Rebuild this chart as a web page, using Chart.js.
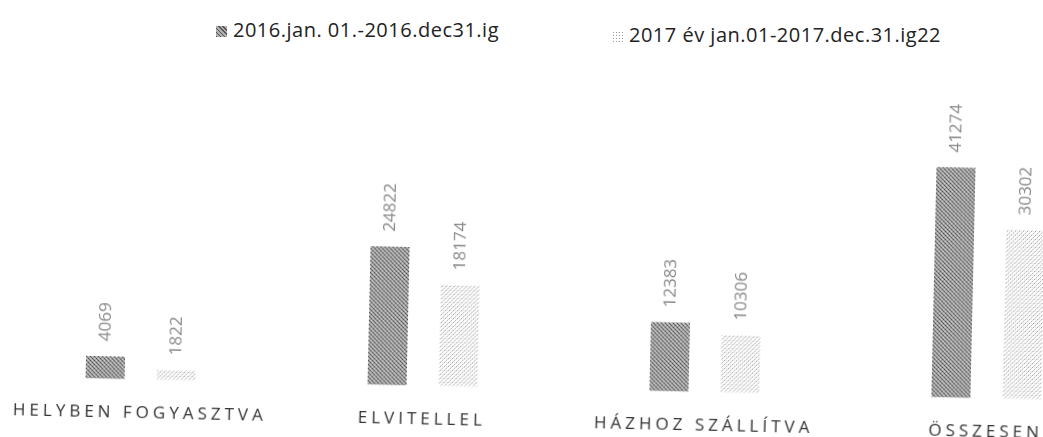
<!DOCTYPE html>
<html>
<head>
<meta charset="utf-8">
<script src="https://cdn.jsdelivr.net/npm/chart.js@4/dist/chart.umd.min.js"></script>
<style>
  html, body { margin: 0; padding: 0; background: #fff; overflow: hidden; width: 1043px; height: 437px; }
  .leg { position: absolute; font: 20px "Open Sans", sans-serif; letter-spacing: 0.5px; color: #222; white-space: nowrap; line-height: 22px; }
  .leg i { display: inline-block; width: 11px; height: 11px; margin-right: 6px; vertical-align: 0; }
  #wrap { position: absolute; left: 8px; top: 0; transform: rotate(1.28deg); transform-origin: 0 0; }
</style>
</head>
<body>
<div id="leg0" class="leg" style="left:216px;top:19px"></div>
<div id="leg1" class="leg" style="left:612px;top:24px"></div>
<div id="wrap"><canvas id="chart" width="1128" height="443"></canvas></div>
<script>
const categories = ['HELYBEN FOGYASZTVA', 'ELVITELLEL', 'HÁZHOZ SZÁLLÍTVA', 'ÖSSZESEN'];
const seriesNames = ['2016.jan. 01.-2016.dec31.ig', '2017 év jan.01-2017.dec.31.ig22'];
const values2016 = [4069, 24822, 12383, 41274];
const values2017 = [1822, 18174, 10306, 30302];

// grainy fills to mimic the scanned print
function makePattern(base, dots) {
    const c = document.createElement('canvas');
    c.width = 4;
    c.height = 4;
    const g = c.getContext('2d');
    g.fillStyle = base;
    g.fillRect(0, 0, 4, 4);
    dots.forEach(([x, y, col]) => {
        g.fillStyle = col;
        g.fillRect(x, y, 1, 1);
    });
    return g.createPattern(c, 'repeat');
}

const darkFill = makePattern('#a8a8a8', [[0, 0, '#444'], [1, 1, '#666'], [2, 2, '#444'], [3, 3, '#777'], [2, 0, '#d0d0d0'], [0, 2, '#d0d0d0'], [3, 1, '#bbb']]);
const lightFill = makePattern('#ffffff', [[0, 0, '#999'], [2, 2, '#b0b0b0'], [1, 3, '#d0d0d0'], [3, 1, '#d0d0d0'], [2, 0, '#e4e4e4']]);

const fills = [darkFill, lightFill];
const swatches = ['repeating-linear-gradient(45deg,#555 0 1px,#b0b0b0 1px 3px)', 'radial-gradient(#999 0.6px, #fff 1px) 0 0/3px 3px'];
seriesNames.forEach((name, i) => {
    const el = document.getElementById('leg' + i);
    el.innerHTML = '<i style="background:' + swatches[i] + '"></i>' + name;
});

const valueLabels = {
    id: 'valueLabels',
    beforeDraw(chart) {
        chart.ctx.letterSpacing = '4px';
    },
    beforeDatasetsDraw(chart) {
        chart.ctx.letterSpacing = '0px';
    },
    afterDatasetsDraw(chart) {
        const ctx = chart.ctx;
        ctx.save();
        ctx.font = '17px "Open Sans"';
        ctx.fillStyle = '#888';
        ctx.textAlign = 'left';
        ctx.textBaseline = 'middle';
        chart.data.datasets.forEach((ds, i) => {
            chart.getDatasetMeta(i).data.forEach((bar, j) => {
                ctx.save();
                ctx.translate(bar.x, bar.y - 15);
                ctx.rotate(-Math.PI / 2);
                ctx.fillText(String(ds.data[j]), 0, 0);
                ctx.restore();
            });
        });
        ctx.restore();
    }
};

new Chart(document.getElementById('chart'), {
    type: 'bar',
    data: {
        labels: categories,
        datasets: [{
            label: seriesNames[0],
            data: values2016,
            backgroundColor: fills[0]
        }, {
            label: seriesNames[1],
            data: values2017,
            backgroundColor: fills[1]
        }]
    },
    options: {
        responsive: false,
        devicePixelRatio: 1,
        animation: false,
        categoryPercentage: 0.5035,
        barPercentage: 0.55,
        layout: { padding: 0 },
        plugins: {
            legend: { display: false },
            tooltip: { enabled: false }
        },
        scales: {
            x: {
                grid: { display: false, drawTicks: false },
                border: { display: false },
                ticks: {
                    color: '#333',
                    font: { family: 'Open Sans', size: 17 },
                    padding: 23,
                    maxRotation: 0,
                    autoSkip: false
                }
            },
            y: {
                display: false,
                min: 0,
                max: 67500
            }
        }
    },
    plugins: [valueLabels]
});
</script>
</body>
</html>
